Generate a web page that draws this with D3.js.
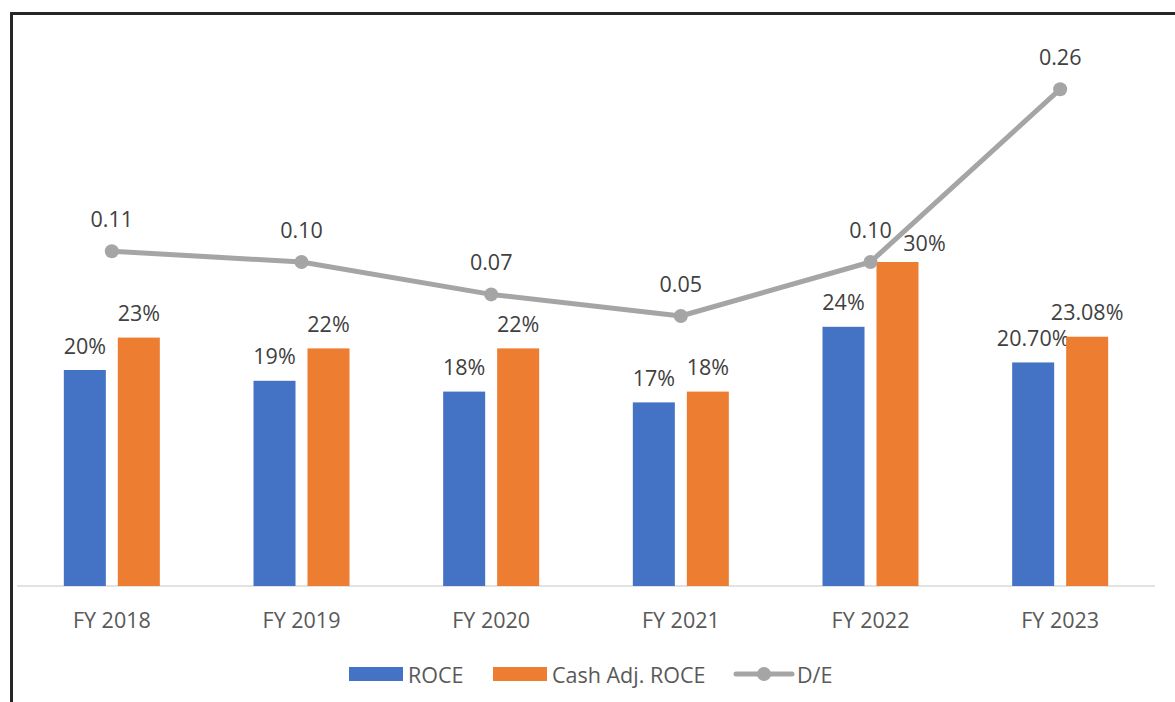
<!DOCTYPE html>
<html>
<head>
<meta charset="utf-8">
<script src="https://cdn.jsdelivr.net/npm/d3@7"></script>
<style>
  body { margin: 0; background: #fff; }
  text { font-family: "Open Sans", "Liberation Sans", sans-serif; }
</style>
</head>
<body>
<div id="chart"></div>
<script>
// data
var categories = ["FY 2018", "FY 2019", "FY 2020", "FY 2021", "FY 2022", "FY 2023"];
var roce = [20, 19, 18, 17, 24, 20.70];
var roceLabels = ["20%", "19%", "18%", "17%", "24%", "20.70%"];
var cashRoce = [23, 22, 22, 18, 30, 23.08];
var cashRoceLabels = ["23%", "22%", "22%", "18%", "30%", "23.08%"];
var debtEquity = [0.11, 0.10, 0.07, 0.05, 0.10, 0.26];
var debtEquityLabels = ["0.11", "0.10", "0.07", "0.05", "0.10", "0.26"];
var seriesNames = ["ROCE", "Cash Adj. ROCE", "D/E"];

var width = 1175, height = 702;
var blue = "#4472C4", orange = "#ED7D31", grey = "#A5A5A5";

var svg = d3.select("#chart").append("svg")
    .attr("width", width)
    .attr("height", height);

// frame lines (top + left)
svg.append("line").attr("x1", 10).attr("x2", width).attr("y1", 13.5).attr("y2", 13.5)
    .attr("stroke", "#262626").attr("stroke-width", 3);
svg.append("line").attr("x1", 11.5).attr("x2", 11.5).attr("y1", 12).attr("y2", height)
    .attr("stroke", "#262626").attr("stroke-width", 3);

var plotLeft = 17, plotRight = 1155, plotTop = 46, plotBottom = 586;

var x = d3.scaleBand().domain(categories).range([plotLeft, plotRight]);
var y = d3.scaleLinear().domain([0, 50]).range([plotBottom, plotTop]);
var y2 = d3.scaleLinear().domain([-0.2, 0.3]).range([plotBottom, plotTop]);
var xSub = d3.scaleBand().domain([0, 1]).range([0, 96]).paddingInner(0.222);

function cx(i) { return x(categories[i]) + x.bandwidth() / 2; }

// baseline
svg.append("line")
    .attr("x1", plotLeft).attr("x2", plotRight)
    .attr("y1", y(0)).attr("y2", y(0))
    .attr("stroke", "#D9D9D9").attr("stroke-width", 1.5);

// bars
var barSeries = [
    {values: roce, labels: roceLabels, color: blue},
    {values: cashRoce, labels: cashRoceLabels, color: orange}
];

barSeries.forEach(function(s, si) {
    var g = svg.append("g");
    g.selectAll("rect")
        .data(s.values)
        .enter().append("rect")
        .attr("x", function(d, i) { return cx(i) - 48 + xSub(si); })
        .attr("width", xSub.bandwidth())
        .attr("y", function(d) { return y(d); })
        .attr("height", function(d) { return y(0) - y(d); })
        .attr("fill", s.color);
    g.selectAll("text")
        .data(s.values)
        .enter().append("text")
        .attr("x", function(d, i) {
            var px = cx(i) - 48 + xSub(si) + xSub.bandwidth() / 2;
            // label of 30% moved right to clear the D/E line
            if (si === 1 && i === 4) px += 27;
            return px;
        })
        .attr("y", function(d, i) { return y(d) - ((si === 1 && i === 4) ? 20 : 25); })
        .attr("text-anchor", "middle")
        .attr("dominant-baseline", "central")
        .attr("font-size", 21.5)
        .attr("fill", "#404040")
        .text(function(d, i) { return s.labels[i]; });
});

// D/E line
var line = d3.line()
    .x(function(d, i) { return cx(i); })
    .y(function(d) { return y2(d); });

svg.append("path")
    .datum(debtEquity)
    .attr("d", line)
    .attr("fill", "none")
    .attr("stroke", grey)
    .attr("stroke-width", 5)
    .attr("stroke-linejoin", "round");

svg.selectAll("circle.pt")
    .data(debtEquity)
    .enter().append("circle")
    .attr("class", "pt")
    .attr("cx", function(d, i) { return cx(i); })
    .attr("cy", function(d) { return y2(d); })
    .attr("r", 7)
    .attr("fill", grey);

svg.selectAll("text.de")
    .data(debtEquity)
    .enter().append("text")
    .attr("class", "de")
    .attr("x", function(d, i) { return cx(i); })
    .attr("y", function(d) { return y2(d) - 33; })
    .attr("text-anchor", "middle")
    .attr("dominant-baseline", "central")
    .attr("font-size", 21.5)
    .attr("fill", "#404040")
    .text(function(d, i) { return debtEquityLabels[i]; });

// x axis labels
svg.selectAll("text.cat")
    .data(categories)
    .enter().append("text")
    .attr("class", "cat")
    .attr("x", function(d, i) { return cx(i); })
    .attr("y", 619)
    .attr("text-anchor", "middle")
    .attr("dominant-baseline", "central")
    .attr("font-size", 21.5)
    .attr("fill", "#595959")
    .text(function(d) { return d; });

// legend
var legY = 674;
var leg = svg.append("g");
leg.append("rect").attr("x", 349).attr("y", legY - 7).attr("width", 54).attr("height", 14).attr("fill", blue);
leg.append("text").attr("x", 408).attr("y", legY).text(seriesNames[0]);
leg.append("rect").attr("x", 493).attr("y", legY - 7).attr("width", 54).attr("height", 14).attr("fill", orange);
leg.append("text").attr("x", 552).attr("y", legY).text(seriesNames[1]);
leg.append("line").attr("x1", 736).attr("x2", 792).attr("y1", legY).attr("y2", legY)
    .attr("stroke", grey).attr("stroke-width", 5).attr("stroke-linecap", "round");
leg.append("circle").attr("cx", 764).attr("cy", legY).attr("r", 7).attr("fill", grey);
leg.append("text").attr("x", 797).attr("y", legY).text(seriesNames[2]);
leg.selectAll("text")
    .attr("dominant-baseline", "central")
    .attr("font-size", 21.5)
    .attr("fill", "#595959");
</script>
</body>
</html>
